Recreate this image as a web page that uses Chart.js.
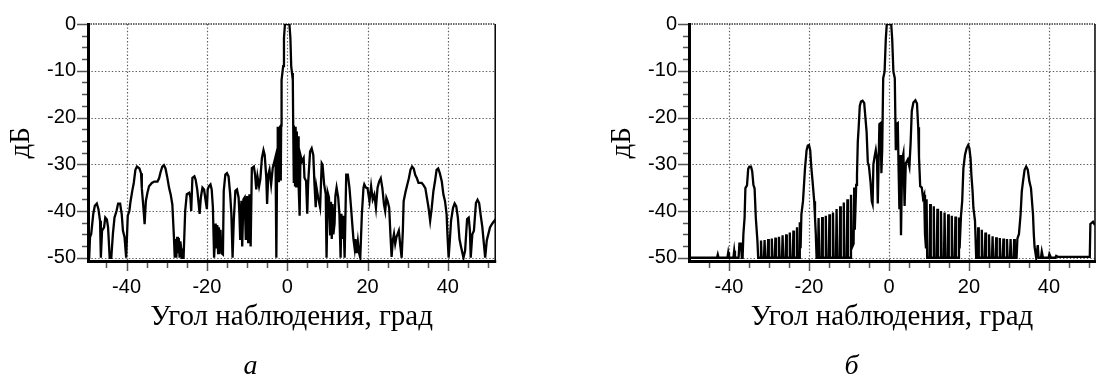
<!DOCTYPE html>
<html>
<head>
<meta charset="utf-8">
<script src="https://cdn.jsdelivr.net/npm/chart.js@4.4.1/dist/chart.umd.min.js"></script>
<style>
html,body{margin:0;padding:0;background:#fff;overflow:hidden;width:1098px;height:379px;}
.panel{position:absolute;top:0;width:502px;height:379px;}
#pa{left:0;}
#pb{left:601px;}
</style>
</head>
<body>
<div class="panel" id="pa"><canvas id="ca" width="502" height="379"></canvas></div>
<div class="panel" id="pb"><canvas id="cb" width="502" height="379"></canvas></div>
<script>
// ---- data: [angle (deg), level (dB)] ----
const seriesA = [
[-49.6,-50],[-49.3,-50],[-49.1,-45.6],[-48.8,-44.9],[-48.3,-40.7],[-47.9,-38.9],[-47.4,-38.4],[-47.0,-39.6],[-46.6,-42.1],[-46.4,-50],
[-46.1,-44.2],[-45.6,-43.5],[-45.3,-41.4],[-44.9,-41.8],[-44.6,-43.5],[-44.2,-50],[-43.8,-50],[-43.4,-44.9],[-43.0,-41.4],[-42.5,-40],
[-42.1,-38.4],[-41.6,-38.4],[-41.2,-40.7],[-40.9,-44.2],[-40.5,-45.6],[-40.1,-50],[-39.7,-41],[-39.3,-40],[-39.0,-37.9],[-38.6,-35.8],
[-38.2,-34],[-37.8,-31.2],[-37.4,-30.5],[-36.8,-30.9],[-36.4,-31.9],[-36.2,-35.1],[-35.8,-39.3],[-35.5,-42.8],[-35.2,-37.9],[-34.8,-36.1],
[-34.4,-34.7],[-33.7,-34],[-33.1,-33.7],[-32.3,-33.7],[-31.9,-33],[-31.5,-31.6],[-31.1,-30.5],[-30.7,-30.2],[-30.3,-30.9],[-29.9,-32.6],
[-29.4,-35.1],[-29.0,-36.5],[-28.6,-38.6],[-28.2,-45.6],[-28.0,-50],[-27.8,-46],[-27.6,-50],[-27.4,-45.5],[-27.2,-49],[-27.0,-45.8],
[-26.8,-50],[-26.6,-46.5],[-26.4,-48],[-26.2,-50],[-25.8,-50],[-25.4,-40],[-25.0,-36.4],[-24.4,-36.1],[-24.1,-37.1],[-23.9,-40],
[-23.6,-32.9],[-23.1,-32.6],[-22.8,-33.3],[-22.4,-35.4],[-22.1,-38],[-21.8,-40.6],[-21.5,-37.1],[-21.1,-35],[-20.7,-35.4],[-20.3,-37.8],
[-20.0,-39.6],[-19.8,-35.4],[-19.5,-34.7],[-19.1,-34.3],[-18.8,-35.4],[-18.5,-39.2],[-18.2,-50],[-17.8,-42.7],[-17.6,-48],[-17.4,-43],
[-17.2,-49],[-17.0,-43.5],[-16.8,-48.5],[-16.6,-44],[-16.4,-49],[-16.0,-49.3],[-15.8,-35.7],[-15.4,-32.2],[-15.0,-31.9],[-14.6,-32.6],
[-14.2,-36.4],[-13.9,-40.6],[-13.6,-50],[-13.3,-42],[-12.9,-35.7],[-12.5,-35.4],[-12.1,-37.1],[-11.9,-40.6],[-11.7,-46.2],[-11.4,-37.8],
[-11.2,-47.6],[-10.9,-37.5],[-10.6,-37.1],[-10.3,-46.2],[-10.0,-36.8],[-9.7,-46.9],[-9.4,-36.4],[-9.1,-47.6],[-8.8,-30.8],[-8.3,-30.5],
[-8.0,-32.2],[-7.7,-35.4],[-7.4,-32.6],[-7.0,-34.7],[-6.7,-33.3],[-6.3,-28.7],[-5.9,-27],[-5.6,-28],[-5.2,-32.9],[-5.0,-38.5],
[-4.7,-32.2],[-4.4,-31.2],[-4.0,-34.3],[-3.6,-30.8],[-3.3,-29.8],[-2.9,-28.4],[-2.7,-50],[-2.5,-29.4],[-2.35,-22],[-2.2,-33.6],
[-2.05,-22],[-1.9,-33],[-1.75,-21.7],[-1.6,-33.5],[-1.5,-21.7],[-1.4,-12],[-1.2,-10.5],[-1.0,-9],[-0.8,-3],[-0.55,0],
[0.55,0],[0.8,-3],[1.0,-9],[1.2,-10.5],[1.4,-12],[1.5,-21.7],[1.65,-34],[1.8,-22],[1.95,-34.5],[2.1,-22],
[2.25,-34.7],[2.4,-23],[2.55,-34.7],[2.7,-24],[2.85,-34.7],[3.1,-41],[3.3,-28],[3.7,-29.4],[4.1,-28.7],[4.3,-32.9],
[4.7,-33.6],[5.0,-40.6],[5.2,-34.3],[5.7,-27.3],[6.1,-26.6],[6.5,-28],[6.8,-34.3],[7.1,-39.2],[7.3,-35],[7.7,-37.1],
[8.2,-39.2],[8.6,-29.8],[8.8,-30.1],[9.2,-34.3],[9.6,-36.4],[9.8,-50],[10.1,-36.1],[10.4,-37.1],[10.7,-45],[10.9,-38],
[11.1,-46],[11.3,-38.5],[11.5,-45],[11.8,-42.7],[12.0,-36.8],[12.3,-35],[12.7,-37.1],[13.0,-40.6],[13.3,-50],[13.5,-40.6],
[13.8,-46],[14.0,-41],[14.3,-50],[14.7,-32.2],[15.1,-32.2],[15.5,-35],[15.9,-39.2],[16.2,-42.7],[16.5,-46],[16.8,-48],
[17.0,-46],[17.3,-49],[17.6,-46.5],[17.9,-49],[18.2,-50],[18.6,-40.6],[19.0,-35],[19.2,-34.3],[19.6,-35],[20.0,-35.1],
[20.5,-37.9],[20.9,-34.7],[21.3,-37.5],[21.7,-36.5],[22.1,-39.3],[22.5,-35],[22.9,-33.7],[23.3,-33],[23.7,-35.1],[24.1,-38.6],
[24.4,-40],[24.7,-37.2],[25.0,-37.9],[25.4,-39.3],[25.7,-44.9],[26.0,-49.8],[26.3,-46.3],[26.6,-44.9],[26.9,-47],[27.2,-45.6],
[27.8,-44.2],[28.2,-47.7],[28.5,-50],[28.8,-44.2],[29.0,-37.9],[29.5,-35.8],[29.9,-34.4],[30.3,-33],[30.7,-31.2],[31.1,-30.5],
[31.5,-30.9],[31.9,-32.3],[32.3,-33],[32.7,-34],[33.5,-34],[33.9,-34.4],[34.4,-35.1],[34.8,-37.2],[35.2,-39.3],[35.6,-42.1],
[36.0,-39.3],[36.4,-35.8],[36.8,-33.7],[37.2,-31.2],[37.6,-30.9],[38.0,-31.9],[38.5,-33.7],[38.9,-36.5],[39.3,-37.9],[39.7,-40.7],
[39.9,-44.9],[40.2,-50],[40.5,-46.3],[40.8,-42.1],[41.3,-39.3],[41.7,-38.4],[42.1,-39],[42.5,-41.4],[42.9,-46],[43.3,-47.7],
[43.9,-50],[44.3,-48.5],[44.8,-41.7],[45.2,-41.4],[45.5,-44.2],[45.7,-50],[46.1,-45],[46.5,-44.2],[47.0,-38.3],[47.4,-37.6],
[47.8,-38.3],[48.2,-41],[48.6,-43.5],[48.9,-46.3],[49.3,-50],[49.7,-46.3],[50.1,-44.9],[50.5,-43.5],[50.9,-42.9],[51.3,-42.4],
[51.7,-42],[52.0,-42.5]
];

const seriesB = [
[-50,-50],[-43,-50],[-42.8,-49.3],[-42.6,-50],[-40.4,-50],[-40.2,-48.9],[-40.0,-50],[-38.9,-50],[-38.7,-48.5],[-38.5,-50],
[-37.6,-50],[-37.4,-47],[-37.0,-47],[-36.8,-50],[-36.6,-50],[-36.4,-44.9],[-36.1,-41.4],[-35.9,-35.1],[-35.5,-34.5],[-35.2,-31],
[-34.9,-30.5],[-34.5,-30.5],[-34.2,-31.5],[-33.9,-34.4],[-33.6,-35.2],[-33.3,-41.4],[-32.9,-46.3],[-32.7,-50],
[-32.15,-50],[-32.0,-46.3],[-31.85,-50],
[-31.25,-50],[-31.1,-46.2],[-30.95,-50],
[-30.35,-50],[-30.2,-46],[-30.05,-50],
[-29.45,-50],[-29.3,-45.9],[-29.15,-50],
[-28.55,-50],[-28.4,-45.7],[-28.25,-50],
[-27.65,-50],[-27.5,-45.5],[-27.35,-50],
[-26.75,-50],[-26.6,-45.2],[-26.45,-50],
[-25.85,-50],[-25.7,-45],[-25.55,-50],
[-24.95,-50],[-24.8,-44.6],[-24.65,-50],
[-24.05,-50],[-23.9,-44.2],[-23.75,-50],
[-23.15,-50],[-23.0,-43.5],[-22.85,-50],
[-22.45,-50],[-22.3,-42.4],[-22.1,-48],[-21.9,-40.7],[-21.5,-37.9],[-21.3,-35.1],[-21.0,-30.9],[-20.6,-27],[-20.3,-26],[-20.0,-25.9],
[-19.7,-27],[-19.4,-30.9],[-19.1,-33.7],[-18.7,-37.9],[-18.5,-41.4],[-18.3,-44.9],[-18.1,-50],
[-17.75,-50],[-17.6,-41.5],[-17.45,-50],
[-16.85,-50],[-16.7,-41.3],[-16.55,-50],
[-15.95,-50],[-15.8,-41],[-15.65,-50],
[-15.05,-50],[-14.9,-40.7],[-14.75,-50],
[-14.15,-50],[-14.0,-40.3],[-13.85,-50],
[-13.25,-50],[-13.1,-39.6],[-12.95,-50],
[-12.35,-50],[-12.2,-39],[-12.05,-50],
[-11.45,-50],[-11.3,-38.2],[-11.15,-50],
[-10.55,-50],[-10.4,-37.5],[-10.25,-50],
[-9.65,-50],[-9.5,-36.5],[-9.35,-48],
[-8.85,-47],[-8.7,-35],[-8.55,-44],
[-8.2,-34.4],[-8.0,-32.3],[-7.8,-25.2],[-7.6,-22.4],[-7.3,-17.5],[-7.0,-16.6],[-6.6,-16.4],[-6.2,-16.9],[-5.9,-20],[-5.6,-23],
[-5.3,-29.5],[-5.0,-30.5],[-4.6,-34],[-4.3,-37.9],[-4.1,-38.5],[-3.9,-30],[-3.6,-28.4],[-3.3,-27],[-3.0,-29],[-2.8,-38.4],
[-2.6,-30],[-2.4,-21.4],[-2.1,-21.2],[-1.9,-31.9],[-1.7,-27],[-1.45,-11.6],[-1.1,-10.2],[-0.8,-3.2],[-0.55,0],[0.55,0],
[0.8,-3.2],[1.1,-10.2],[1.45,-11.6],[1.7,-27],[1.9,-21.4],[2.2,-21.2],[2.4,-31],[2.6,-39.6],[2.8,-28],[3.0,-45.2],
[3.3,-29],[3.6,-27.7],[3.9,-38.9],[4.2,-29.8],[4.7,-29],[5.1,-30.5],[5.4,-25.6],[5.7,-18.6],[6.1,-16.8],[6.6,-16.3],
[7.0,-17],[7.3,-22.1],[7.5,-28.4],[7.8,-34.7],[8.2,-35],[8.5,-37.2],[8.8,-36.5],[9.0,-45],
[9.25,-48],[9.4,-37.5],[9.55,-50],
[10.15,-50],[10.3,-38.5],[10.45,-50],
[11.05,-50],[11.2,-39],[11.35,-50],
[11.95,-50],[12.1,-39.5],[12.25,-50],
[12.85,-50],[13.0,-40],[13.15,-50],
[13.75,-50],[13.9,-40.3],[14.05,-50],
[14.65,-50],[14.8,-40.7],[14.95,-50],
[15.55,-50],[15.7,-41],[15.85,-50],
[16.45,-50],[16.6,-41.2],[16.75,-50],
[17.35,-50],[17.5,-41.4],[17.65,-48],
[18.0,-41],[18.3,-37.9],[18.6,-30.9],[19.0,-28],[19.4,-26.6],[19.8,-25.9],[20.1,-26.6],[20.4,-28.8],[20.6,-32.3],[20.9,-35.8],
[21.1,-39.3],[21.5,-42.1],[21.8,-50],
[22.15,-50],[22.3,-43.5],[22.45,-50],
[23.05,-50],[23.2,-44],[23.35,-50],
[23.95,-50],[24.1,-44.6],[24.25,-50],
[24.85,-50],[25.0,-45],[25.15,-50],
[25.75,-50],[25.9,-45.4],[26.05,-50],
[26.65,-50],[26.8,-45.6],[26.95,-50],
[27.55,-50],[27.7,-45.8],[27.85,-50],
[28.45,-50],[28.6,-45.9],[28.75,-50],
[29.35,-50],[29.5,-46],[29.65,-50],
[30.25,-50],[30.4,-46],[30.55,-50],
[31.15,-50],[31.3,-46],[31.45,-50],
[31.9,-50],[32.1,-45.9],[32.5,-44.9],[32.9,-40.7],[33.2,-35.8],[33.5,-33.7],[33.9,-31.2],[34.3,-30.5],[34.7,-31.2],[35.1,-33.7],
[35.5,-35.1],[36.0,-40.7],[36.2,-44.9],[36.4,-47.7],[36.8,-50],[37.0,-50],[37.2,-47.3],[37.4,-50],[38.0,-50],[38.2,-48.7],
[38.5,-50],[39.9,-50],[40.1,-49.2],[40.5,-50],[41.6,-50],[41.8,-49.6],[42.2,-49.8],[50.2,-49.8],[50.35,-42.8],[51.0,-42.3],
[51.5,-43]
];

const xTickLabels = [-40, -20, 0, 20, 40];
const yTickLabels = [0, -10, -20, -30, -40, -50];
const captions = ['а', 'б'];
const xTitle = 'Угол наблюдения, град';
const yTitle = 'дБ';
const xRanges = [[-49.6, 51.8], [-50, 51.5]];
const yRange = [-50.8, 0];

// ---- drawing ----
const SANS = "'Liberation Sans', Arial, sans-serif";
const SERIF = "'Liberation Serif', 'Times New Roman', serif";

const framePlugin = {
  id: 'frame',
  beforeDatasetsDraw(chart) {
    const {ctx, chartArea: a, scales: {x, y}} = chart;
    ctx.save();
    ctx.strokeStyle = '#5e5e5e';
    ctx.lineWidth = 1.2;
    ctx.setLineDash([1.4, 2]);
    ctx.beginPath();
    yTickLabels.forEach(v => {
      if (v === yRange[1]) return;
      const p = Math.round(y.getPixelForValue(v)) + 0.5;
      ctx.moveTo(a.left, p); ctx.lineTo(a.right, p);
    });
    xTickLabels.forEach(v => {
      const p = Math.round(x.getPixelForValue(v)) + 0.5;
      ctx.moveTo(p, a.top); ctx.lineTo(p, a.bottom);
    });
    ctx.stroke();
    ctx.strokeStyle = '#3a3a3a';
    ctx.lineWidth = 1.6;
    ctx.setLineDash([1.5, 1]);
    ctx.beginPath();
    const t = y.getPixelForValue(0);
    ctx.moveTo(a.left, t); ctx.lineTo(a.right, t);
    ctx.stroke();
    ctx.restore();
  },
  afterDatasetsDraw(chart) {
    const {ctx, chartArea: a, scales: {x, y}} = chart;
    ctx.save();
    ctx.setLineDash([]);
    ctx.strokeStyle = '#555';
    ctx.lineWidth = 1.5;
    ctx.beginPath();
    y.ticks.forEach(tk => {
      const p = Math.round(y.getPixelForValue(tk.value)) + 0.5;
      const len = yTickLabels.includes(tk.value) ? 10 : 5;
      ctx.moveTo(a.left - 1 - len, p); ctx.lineTo(a.left, p);
    });
    x.ticks.forEach(tk => {
      const p = Math.round(x.getPixelForValue(tk.value)) + 0.5;
      const len = xTickLabels.includes(tk.value) ? 8 : 5;
      ctx.moveTo(p, a.bottom); ctx.lineTo(p, a.bottom + 1.5 + len);
    });
    ctx.stroke();
    ctx.strokeStyle = '#000';
    ctx.lineWidth = 1.5;
    ctx.beginPath();
    ctx.moveTo(a.right, a.top); ctx.lineTo(a.right, a.bottom);
    ctx.stroke();
    ctx.lineWidth = 3;
    ctx.beginPath();
    ctx.moveTo(a.left + 0.5, a.top - 1); ctx.lineTo(a.left + 0.5, a.bottom + 1.5);
    ctx.moveTo(a.left - 1, a.bottom); ctx.lineTo(a.right + 1, a.bottom);
    ctx.stroke();
    ctx.restore();
  }
};

function makeChart(id, series, xr, caption) {
  return new Chart(document.getElementById(id), {
    type: 'line',
    data: {
      datasets: [{
        data: series.map(p => ({x: p[0], y: p[1]})),
        borderColor: '#000',
        borderWidth: 2.3,
        pointRadius: 0,
        tension: 0,
        fill: false
      }]
    },
    options: {
      responsive: false,
      devicePixelRatio: 1,
      animation: false,
      events: [],
      layout: {padding: {top: 20, right: 1, bottom: 0, left: 0}},
      plugins: {
        legend: {display: false},
        tooltip: {enabled: false},
        title: {
          display: true,
          position: 'bottom',
          text: caption,
          color: '#000',
          font: {family: SERIF, size: 28, style: 'italic', weight: 'normal'},
          padding: {top: 0, bottom: -4}
        }
      },
      scales: {
        x: {
          type: 'linear',
          min: xr[0], max: xr[1],
          afterBuildTicks: s => {
            const t = [];
            for (let v = -45; v <= s.max; v += 5) t.push({value: v});
            s.ticks = t;
          },
          afterFit: s => { s.height = 87.9; },
          grid: {display: false, drawTicks: false},
          border: {display: false},
          ticks: {
            autoSkip: false, maxRotation: 0, padding: 14, color: '#000',
            font: {family: SANS, size: 20},
            callback: v => xTickLabels.includes(v) ? String(v) : ''
          },
          title: {
            display: true, text: xTitle, color: '#000',
            font: {family: SERIF, size: 29},
            padding: {top: 0, bottom: 14.8}
          }
        },
        y: {
          type: 'linear',
          min: yRange[0], max: yRange[1],
          afterBuildTicks: s => {
            const t = [];
            for (let v = 0; v >= -50; v -= 2.5) t.push({value: v});
            s.ticks = t;
          },
          afterFit: s => { s.width = 88; },
          grid: {display: false, drawTicks: false},
          border: {display: false},
          ticks: {
            autoSkip: false, padding: 12, color: '#000',
            font: {family: SANS, size: 20},
            callback: v => yTickLabels.includes(v) ? String(v) : ''
          },
          title: {
            display: true, text: yTitle, color: '#000',
            font: {family: SERIF, size: 29},
            padding: {top: 4, bottom: 0}
          }
        }
      }
    },
    plugins: [framePlugin]
  });
}

makeChart('ca', seriesA, xRanges[0], captions[0]);
makeChart('cb', seriesB, xRanges[1], captions[1]);
</script>
</body>
</html>
